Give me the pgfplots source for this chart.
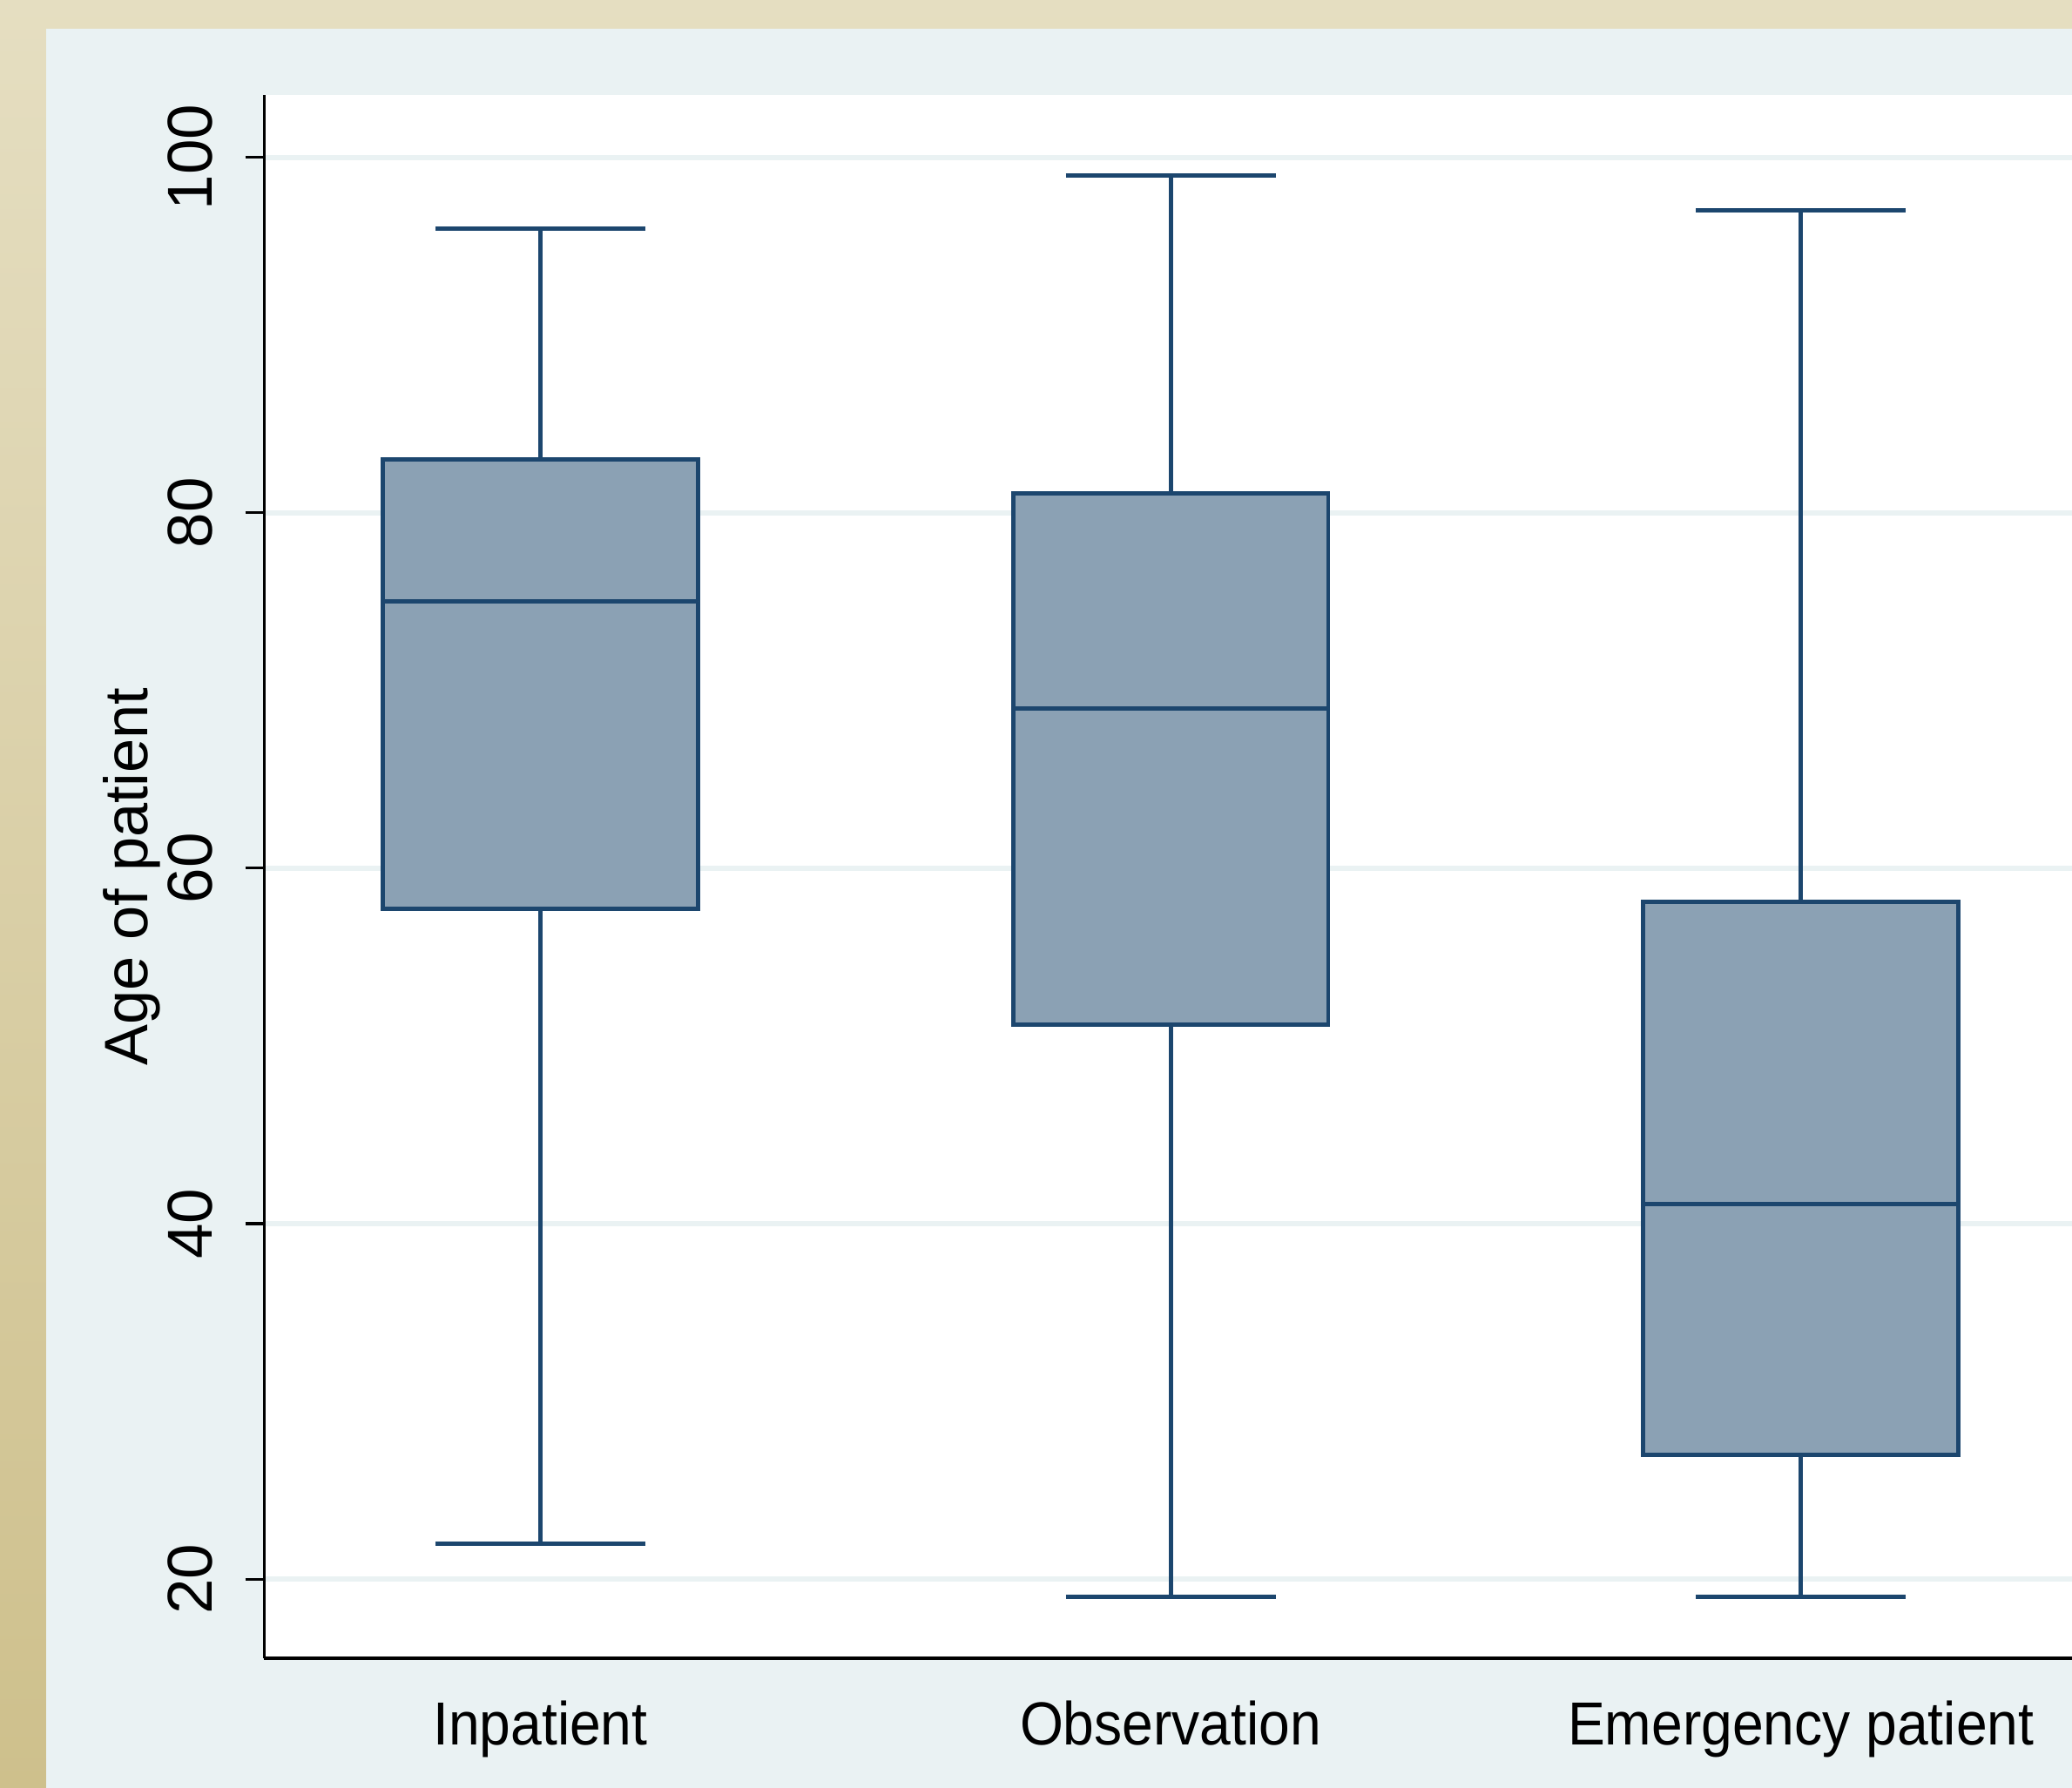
\documentclass[border=0pt]{standalone}
\usepackage{fontspec}
\setmainfont{Liberation Sans}
\newfontfamily\narrowfont[FakeStretch=0.92]{Liberation Sans}
\usepackage{pgfplots}
\pgfplotsset{compat=1.18}
\usepgfplotslibrary{statistics}
\definecolor{goldtop}{RGB}{229,222,193}
\definecolor{goldleft}{RGB}{206,192,140}
\definecolor{panel}{RGB}{234,242,243}
\definecolor{boxfill}{RGB}{139,161,180}
\definecolor{boxline}{RGB}{28,70,110}
\begin{document}
\begin{tikzpicture}
\useasboundingbox (-50pt,-24.5pt) rectangle (342pt,313.75pt);
\shade[top color=goldtop, bottom color=goldleft] (-50pt,-24.5pt) rectangle (342pt,313.75pt);
\fill[panel] (-41.25pt,-24.5pt) rectangle (342pt,308.25pt);
\fill[white] (0pt,0pt) rectangle (342pt,295.75pt);
\begin{axis}[
  at={(0pt,0pt)}, anchor=south west,
  scale only axis, width=342pt, height=295.75pt,
  xmin=0.562, xmax=3.43, ymin=15.54, ymax=103.5,
  axis lines*=left,
  axis line style={black, line width=0.6pt},
  /pgf/number format/assume math mode=true,
  xtick={1,2,3},
  xticklabels={Inpatient, Observation, Emergency patient},
  x tick style={draw=none},
  xticklabel style={font=\narrowfont\fontsize{11.5}{13}\selectfont, anchor=base, yshift=-12.75pt, inner sep=0pt},
  ytick={20,40,60,80,100},
  y tick style={black, line width=0.5pt},
  tick align=outside, major tick length=3.6pt,
  yticklabel style={font=\fontsize{12}{14}\selectfont, rotate=90, anchor=south, inner sep=0pt},
  yticklabel shift=6pt,
  ymajorgrids, grid style={draw=panel, line width=1pt},
  ylabel={Age of patient},
  ylabel style={font=\fontsize{11.6}{14}\selectfont, at={(axis description cs:0,0.5)}, anchor=center, yshift=25pt},
  boxplot/draw direction=y,
  clip=false,
]
\addplot+[boxplot prepared={draw position=1, lower whisker=22, lower quartile=57.7, median=75, upper quartile=83, upper whisker=96, box extend=0.5, whisker extend=0.333}, draw=boxline, fill=boxfill, line width=0.8pt, solid, mark=none] coordinates {};
\addplot+[boxplot prepared={draw position=2, lower whisker=19, lower quartile=51.2, median=69, upper quartile=81.1, upper whisker=99, box extend=0.5, whisker extend=0.333}, draw=boxline, fill=boxfill, line width=0.8pt, solid, mark=none] coordinates {};
\addplot+[boxplot prepared={draw position=3, lower whisker=19, lower quartile=27, median=41.1, upper quartile=58.1, upper whisker=97, box extend=0.5, whisker extend=0.333}, draw=boxline, fill=boxfill, line width=0.8pt, solid, mark=none] coordinates {};
\end{axis}
\end{tikzpicture}
\end{document}
